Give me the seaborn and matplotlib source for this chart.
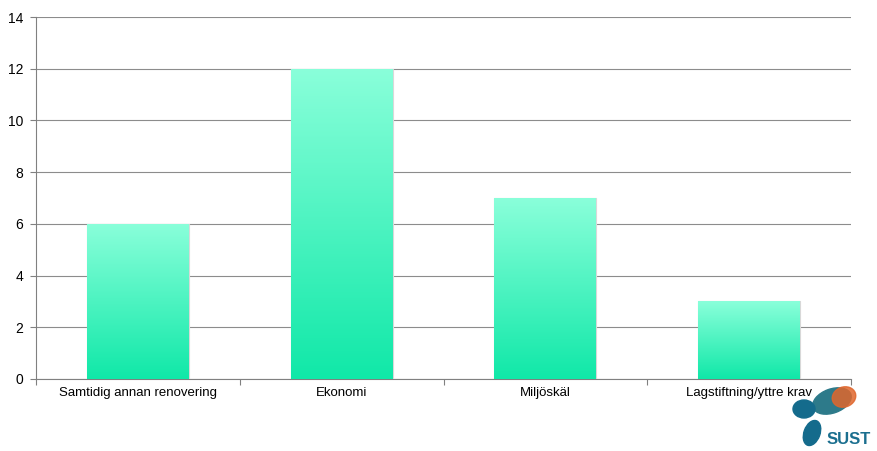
import numpy as np
import pandas as pd
import matplotlib
matplotlib.use("Agg")
import matplotlib.pyplot as plt
import seaborn as sns
from matplotlib.colors import LinearSegmentedColormap
from matplotlib.patches import Ellipse

categories = ["Samtidig annan renovering", "Ekonomi", "Miljöskäl", "Lagstiftning/yttre krav"]
values = [6, 12, 7, 3]
yticks = [0, 2, 4, 6, 8, 10, 12, 14]

sns.set_theme(style="white")
plt.rcParams["font.family"] = ["Liberation Sans", "DejaVu Sans"]

fig = plt.figure(figsize=(8.77, 4.51), dpi=100)
ax = fig.add_axes([36 / 877, 72 / 451, 815 / 877, 362 / 451])

df = pd.DataFrame({"cat": categories, "val": values})
sns.barplot(data=df, x="cat", y="val", ax=ax, width=0.5, color="#40F0C0",
            edgecolor="#d8d8d8", linewidth=0.8, zorder=3)

cmap = LinearSegmentedColormap.from_list("g", ["#10E8A8", "#8AFFDA"])
grad = np.linspace(0, 1, 256).reshape(-1, 1)
for p in ax.patches:
    x0, y0 = p.get_x(), p.get_y()
    w, h = p.get_width(), p.get_height()
    im = ax.imshow(grad, cmap=cmap, origin="lower", aspect="auto",
                   extent=[x0, x0 + w, y0, y0 + h], zorder=4)
    im.set_clip_path(p)

ax.set_xlim(-0.5, 3.5)
ax.set_ylim(0, 14)
ax.set_yticks(yticks)
ax.set_yticklabels([str(v) for v in yticks], fontsize=10, color="#000000")
ax.set_xticks(range(len(categories)))
ax.set_xticklabels(categories, fontsize=9.5, color="#000000")
ax.set_xticks([-0.5, 0.5, 1.5, 2.5, 3.5], minor=True)
ax.tick_params(axis="x", which="major", length=0, pad=6)
ax.tick_params(axis="x", which="minor", length=4, color="#808080", width=0.8, direction="out", bottom=True)
ax.tick_params(axis="y", length=4, color="#808080", width=0.8, direction="out", left=True, pad=5)
ax.set_xlabel("")
ax.set_ylabel("")
ax.yaxis.grid(True, color="#8c8c8c", linewidth=0.8, zorder=0)
ax.set_axisbelow(True)
for s in ["top", "right"]:
    ax.spines[s].set_visible(False)
for s in ["left", "bottom"]:
    ax.spines[s].set_color("#808080")
    ax.spines[s].set_linewidth(0.8)

# logo approximation
lax = fig.add_axes([770 / 877, 0, 107 / 877, 70 / 451])
lax.set_xlim(0, 107)
lax.set_ylim(0, 70)
lax.axis("off")
lax.add_patch(Ellipse((62, 50), 40, 24, angle=20, color="#2d7a8a"))
lax.add_patch(Ellipse((74, 54), 24, 20, angle=20, color="#e0662c", alpha=0.85))
lax.add_patch(Ellipse((34, 42), 22, 18, color="#146b8c"))
lax.add_patch(Ellipse((42, 18), 16, 26, angle=-20, color="#146b8c"))
lax.text(57, 11, "SUST", fontsize=12, color="#1b6f8f", fontweight="bold", va="center", ha="left")

fig.savefig("out.png", dpi=100)
